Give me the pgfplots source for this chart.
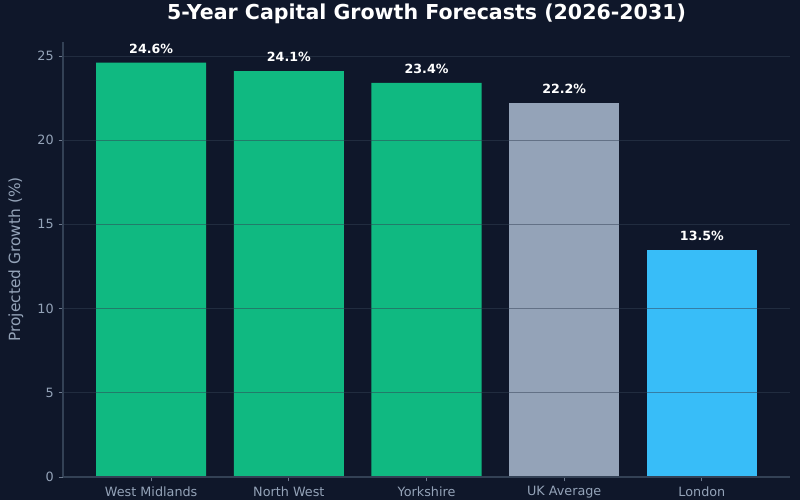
\documentclass[border=0pt]{standalone}
\usepackage{pgfplots}
\pgfplotsset{compat=1.18}
\usepackage{fontspec}
\setmainfont{DejaVu Sans}
\definecolor{bgc}{HTML}{0F172A}
\definecolor{grn}{HTML}{10B981}
\definecolor{gry}{HTML}{94A3B8}
\definecolor{blu}{HTML}{38BDF8}
\definecolor{spine}{HTML}{334155}
\begin{document}
\begin{tikzpicture}
\fill[bgc] (0,0) rectangle (576pt,360pt);
\begin{axis}[
  at={(45.4pt,16.6pt)}, anchor=south west,
  scale only axis, width=523.4pt, height=313.2pt,
  xmin=-0.64, xmax=4.64, ymin=0, ymax=25.83,
  xtick={0,1,2,3,4},
  xticklabels={West Midlands,North West,Yorkshire,UK Average,London},
  ytick={0,5,10,15,20,25},
  /pgf/number format/assume math mode=true,
  axis x line*=bottom, axis y line*=left,
  axis line style={draw=spine,-, line width=0.8pt},
  tick align=outside, major tick length=3.2pt,
  tick style={draw=gry!70!bgc, line width=0.6pt},
  xtick pos=bottom, ytick pos=left,
  ymajorgrids, grid style={draw=spine, opacity=0.5, line width=0.6pt},
  axis on top,
  ticklabel style={font=\fontsize{9.2}{11}\selectfont, text=gry},
  ylabel={Projected Growth (\%)},
  ylabel style={font=\fontsize{11.1}{13}\selectfont, text=gry, at={(axis description cs:-0.0648,0.5)}, anchor=center, rotate=0},
  title={\textbf{5-Year Capital Growth Forecasts (2026-2031)}},
  title style={font=\fontsize{14.8}{17}\selectfont, text=white, at={(axis description cs:0.5,1)}, anchor=base, yshift=10pt},
  ybar, bar width=0.8, bar shift=0pt,
  nodes near coords={\pgfmathprintnumber[fixed,precision=1,fixed zerofill]{\pgfplotspointmeta}\%},
  every node near coord/.append style={font=\bfseries\fontsize{9.1}{11}\selectfont, text=white, anchor=base, yshift=6.7pt},
]
\addplot[fill=grn, draw=none] coordinates {(0,24.6) (1,24.1) (2,23.4)};
\addplot[fill=gry, draw=none] coordinates {(3,22.2)};
\addplot[fill=blu, draw=none] coordinates {(4,13.5)};
\end{axis}
\pgfresetboundingbox
\useasboundingbox (0,0) rectangle (576pt,360pt);
\end{tikzpicture}
\end{document}
